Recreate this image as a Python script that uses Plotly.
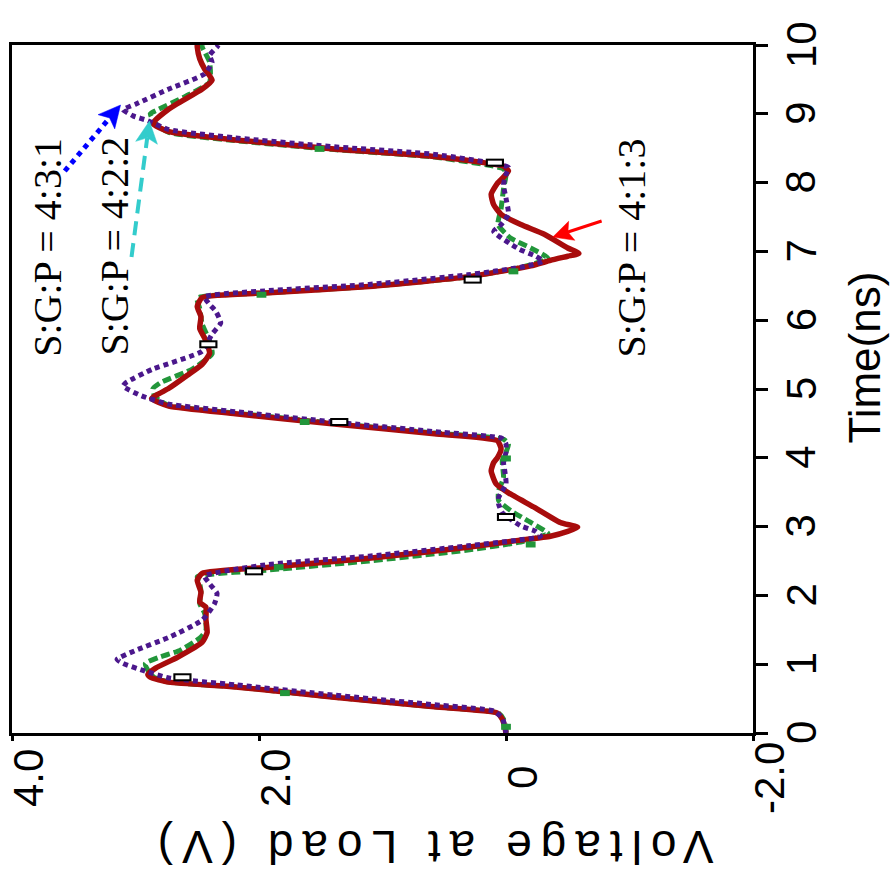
import math
import plotly.graph_objects as go

# ---------------- data (time in ns, voltage in V) ----------------
# S:G:P = 4:1:3  (dark red, solid)
t_413 = [0.00, 0.09, 0.20, 0.29, 0.38, 0.52, 0.67, 0.74, 0.81, 0.85, 0.94, 1.10, 1.32, 1.46, 1.65, 1.83, 1.90, 2.05, 2.22, 2.32,
         2.41, 2.54, 2.70, 2.80, 2.86, 2.93, 2.99, 3.06, 3.28, 3.49, 3.62, 3.81, 3.93, 4.00, 4.13, 4.25,
         4.35, 4.49, 4.64, 4.75, 4.86, 5.01, 5.20, 5.36, 5.52, 5.74, 5.88, 6.05, 6.20, 6.33,
         6.40, 6.49, 6.63, 6.79, 6.87, 6.93, 6.97, 7.05, 7.25, 7.39, 7.54, 7.68, 7.83, 7.99, 8.08, 8.17, 8.24, 8.29,
         8.38, 8.49, 8.62, 8.74, 8.86, 9.07, 9.36, 9.49, 9.65, 9.80, 9.97, 10.0]
v_413 = [0.00, 0.01, 0.03, 0.07, 0.58, 1.39, 2.19, 2.73, 2.88, 2.90, 2.84, 2.66, 2.46, 2.42, 2.43, 2.43, 2.48, 2.47, 2.50, 2.46,
         1.92, 1.11, 0.31, -0.10, -0.36, -0.50, -0.58, -0.44, -0.23, -0.02, 0.08, 0.12, 0.10, 0.07, 0.04, 0.07,
         0.58, 1.39, 2.19, 2.73, 2.87, 2.73, 2.58, 2.46, 2.40, 2.44, 2.48, 2.47, 2.50, 2.46,
         1.92, 1.11, 0.31, -0.20, -0.36, -0.50, -0.59, -0.50, -0.31, -0.12, 0.04, 0.10, 0.12, 0.07, 0.02, -0.02, 0.02, 0.18,
         0.58, 1.39, 2.19, 2.73, 2.86, 2.73, 2.46, 2.38, 2.44, 2.48, 2.50, 2.50]

# S:G:P = 4:2:2  (green, dashed)
t_422 = [0.00, 0.09, 0.20, 0.29, 0.38, 0.52, 0.67, 0.74, 0.81, 0.88, 1.01, 1.10, 1.20, 1.38, 1.49, 1.74, 1.88, 2.05, 2.17, 2.27,
         2.37, 2.50, 2.66, 2.77, 2.84, 2.90, 3.06, 3.23, 3.38, 3.52, 3.71, 3.96, 4.08, 4.20, 4.27,
         4.36, 4.50, 4.65, 4.76, 4.88, 5.00, 5.09, 5.29, 5.51, 5.70, 5.94, 6.17, 6.32,
         6.40, 6.49, 6.63, 6.78, 6.90, 7.05, 7.19, 7.39, 7.62, 7.91, 8.12, 8.20,
         8.37, 8.48, 8.61, 8.73, 8.86, 9.00, 9.06, 9.25, 9.46, 9.75, 9.97, 10.0]
v_422 = [0.00, 0.00, 0.02, 0.06, 0.58, 1.39, 2.19, 2.73, 2.85, 2.89, 2.92, 2.81, 2.64, 2.48, 2.43, 2.44, 2.48, 2.47, 2.48, 2.50,
         1.92, 1.11, 0.31, -0.10, -0.25, -0.34, -0.20, -0.04, 0.06, 0.06, 0.02, 0.03, 0.00, -0.02, 0.02,
         0.58, 1.39, 2.19, 2.73, 2.84, 2.86, 2.80, 2.54, 2.38, 2.40, 2.46, 2.48, 2.50,
         1.92, 1.11, 0.31, -0.15, -0.34, -0.20, -0.04, 0.065, 0.04, 0.02, 0.00, 0.02,
         0.58, 1.39, 2.19, 2.73, 2.84, 2.88, 2.82, 2.60, 2.40, 2.40, 2.46, 2.46]

# S:G:P = 4:3:1  (purple, dotted)
t_431 = [0.00, 0.10, 0.22, 0.32, 0.41, 0.55, 0.70, 0.80, 0.91, 1.01, 1.07, 1.20, 1.39, 1.64, 1.88, 2.03, 2.17, 2.28,
         2.45, 2.57, 2.72, 2.80, 2.86, 2.93, 3.01, 3.20, 3.33, 3.42, 3.62, 3.81, 3.93, 4.08, 4.20, 4.28,
         4.38, 4.52, 4.67, 4.78, 4.90, 5.04, 5.09, 5.29, 5.55, 5.80, 5.96, 6.13, 6.23, 6.34,
         6.43, 6.52, 6.66, 6.78, 6.86, 6.93, 7.04, 7.29, 7.39, 7.54, 7.77, 7.97, 8.12, 8.22,
         8.41, 8.52, 8.65, 8.77, 8.90, 8.97, 9.06, 9.14, 9.36, 9.58, 9.75, 9.85, 9.97, 10.0]
v_431 = [0.00, 0.01, 0.03, 0.10, 0.58, 1.39, 2.19, 2.73, 2.94, 3.10, 3.15, 3.00, 2.73, 2.46, 2.36, 2.34, 2.40, 2.44,
         1.92, 1.11, 0.31, -0.08, -0.28, -0.24, -0.12, 0.03, 0.06, 0.06, 0.00, 0.01, 0.02, 0.00, 0.00, 0.03,
         0.58, 1.39, 2.19, 2.73, 2.95, 3.10, 3.08, 2.86, 2.46, 2.38, 2.31, 2.35, 2.40, 2.44,
         1.92, 1.11, 0.31, -0.15, -0.30, -0.24, -0.10, 0.10, 0.04, -0.02, 0.00, 0.02, 0.00, -0.02,
         0.58, 1.39, 2.19, 2.73, 2.90, 3.02, 3.10, 3.00, 2.73, 2.44, 2.38, 2.40, 2.34, 2.33]

# open rectangular markers
t_box = [0.81, 2.35, 3.14, 4.52, 5.65, 6.59, 8.29]
v_box = [2.62, 2.04, 0.00, 1.35, 2.41, 0.27, 0.09]

# green square markers of the 4:2:2 series
t_gmk = [0.09, 0.58, 2.41, 2.74, 3.99, 4.52, 6.37, 6.71, 8.49]
v_gmk = [0.00, 1.79, 1.84, -0.20, 0.00, 1.63, 1.98, -0.06, 1.51]

# axis ticks
volt_ticks = [4, 2, 0, -2]
volt_labels = ["4.0", "2.0", "0", "-2.0"]
time_ticks = list(range(0, 11))
time_labels = [str(v) for v in time_ticks]

labels = ["S:G:P = 4:3:1", "S:G:P = 4:2:2", "S:G:P = 4:1:3"]

RED = "#A80C0C"
GREEN = "#22963A"
PURPLE = "#4B178C"

# ---------------- layout geometry ----------------
W, H = 890, 885
L, R, T, B = 9, 753, 45, 733
XR = [4, -2]
YR = [0, 10]


def px2v(px):
    return XR[0] + (px - L) / (R - L) * (XR[1] - XR[0])


def py2t(py):
    return YR[0] + (B - py) / (B - T) * (YR[1] - YR[0])


fig = go.Figure()

fig.add_trace(go.Scatter(x=v_422, y=t_422, mode="lines", name=labels[1],
                         line=dict(color=GREEN, width=5, dash="9px,4px", shape="spline", smoothing=0.5)))
fig.add_trace(go.Scatter(x=v_413, y=t_413, mode="lines", name=labels[2],
                         line=dict(color=RED, width=5.5, shape="spline", smoothing=0.5)))
fig.add_trace(go.Scatter(x=v_431, y=t_431, mode="lines", name=labels[0],
                         line=dict(color=PURPLE, width=5, dash="5px,4px", shape="spline", smoothing=0.5)))
fig.add_trace(go.Scatter(x=v_gmk, y=t_gmk, mode="markers", showlegend=False,
                         marker=dict(symbol="line-ew", size=7, color=GREEN,
                                     line=dict(color=GREEN, width=6))))
fig.add_trace(go.Scatter(x=v_box, y=t_box, mode="markers", showlegend=False,
                         marker=dict(symbol="line-ew", size=13, color="black",
                                     line=dict(color="black", width=8))))
fig.add_trace(go.Scatter(x=v_box, y=t_box, mode="markers", showlegend=False,
                         marker=dict(symbol="line-ew", size=10, color="white",
                                     line=dict(color="white", width=4))))

# ---------------- arrows (decoration) ----------------
shapes = []


def arrow(tail, tip, color, width, dash, hl=22, hw=11, notch=5):
    dx, dy = tip[0] - tail[0], tip[1] - tail[1]
    n = math.hypot(dx, dy)
    ux, uy = dx / n, dy / n
    nx, ny = -uy, ux
    base = (tip[0] - ux * (hl - notch), tip[1] - uy * (hl - notch))
    shapes.append(dict(type="line", xref="x", yref="y",
                       x0=px2v(tail[0]), y0=py2t(tail[1]),
                       x1=px2v(base[0]), y1=py2t(base[1]),
                       line=dict(color=color, width=width, dash=dash)))
    p1 = (tip[0] - ux * hl + nx * hw, tip[1] - uy * hl + ny * hw)
    p2 = (tip[0] - ux * hl - nx * hw, tip[1] - uy * hl - ny * hw)
    pts = [tip, p1, base, p2]
    path = "M " + " L ".join(f"{px2v(p[0]):.5f},{py2t(p[1]):.5f}" for p in pts) + " Z"
    shapes.append(dict(type="path", xref="x", yref="y", path=path,
                       fillcolor=color, line=dict(color=color, width=0.5)))


arrow((62, 171), (118, 105), "#0000FF", 5, "5px,5px")
arrow((129, 257), (147, 121), "#33CCCC", 4, "14px,8px")
arrow((601, 221), (552, 237), "#FF0000", 3, "solid", hl=20, hw=10, notch=4)

annotations = []
# series labels
for txt, xc, yc in [(labels[0], 44, 247), (labels[1], 111, 246), (labels[2], 631, 248)]:
    annotations.append(dict(text=txt, x=px2v(xc), y=py2t(yc), xref="x", yref="y",
                            showarrow=False, textangle=-90,
                            xanchor="center", yanchor="middle",
                            font=dict(family="Liberation Serif", size=40, color="black")))

# voltage tick labels
for v, lab in zip(volt_ticks, volt_labels):
    annotations.append(dict(text=lab, x=v, y=0, xref="x", yref="paper",
                            showarrow=False, textangle=-90, xshift=16, yshift=-45,
                            xanchor="center", yanchor="middle",
                            font=dict(family="Liberation Sans", size=42, color="black")))

# time tick labels
for tv, lab in zip(time_ticks, time_labels):
    annotations.append(dict(text=lab, x=1, y=tv, xref="paper", yref="y",
                            showarrow=False, textangle=-90, xshift=801 - R,
                            xanchor="center", yanchor="middle",
                            font=dict(family="Liberation Sans", size=42, color="black")))

# axis titles
annotations.append(dict(text='<span style="letter-spacing:9px">Voltage at Load (V)</span>',
                        x=(430 - L) / (R - L), y=0, xref="paper", yref="paper",
                        yshift=-(847 - B), showarrow=False, textangle=180,
                        xanchor="center", yanchor="middle",
                        font=dict(family="Liberation Sans", size=46, color="black")))
annotations.append(dict(text="Time(ns)", x=(864 - L) / (R - L), y=(B - 358) / (B - T),
                        xref="paper", yref="paper", showarrow=False, textangle=-90,
                        xanchor="center", yanchor="middle",
                        font=dict(family="Liberation Sans", size=44, color="black")))

fig.update_layout(
    width=W, height=H,
    margin=dict(l=L, r=W - R, t=T, b=H - B, pad=0),
    paper_bgcolor="white", plot_bgcolor="white",
    showlegend=False,
    shapes=shapes, annotations=annotations,
    xaxis=dict(range=XR, showgrid=False, zeroline=False, showline=True, linewidth=3,
               linecolor="black", mirror=True, ticks="outside", ticklen=5, tickwidth=2.5,
               tickcolor="black", tickvals=volt_ticks, showticklabels=False),
    yaxis=dict(range=YR, side="right", showgrid=False, zeroline=False, showline=True,
               linewidth=3, linecolor="black", mirror=True, ticks="outside", ticklen=12,
               tickwidth=2.5, tickcolor="black", tickvals=time_ticks, showticklabels=False),
)

fig.write_html("out.html")
